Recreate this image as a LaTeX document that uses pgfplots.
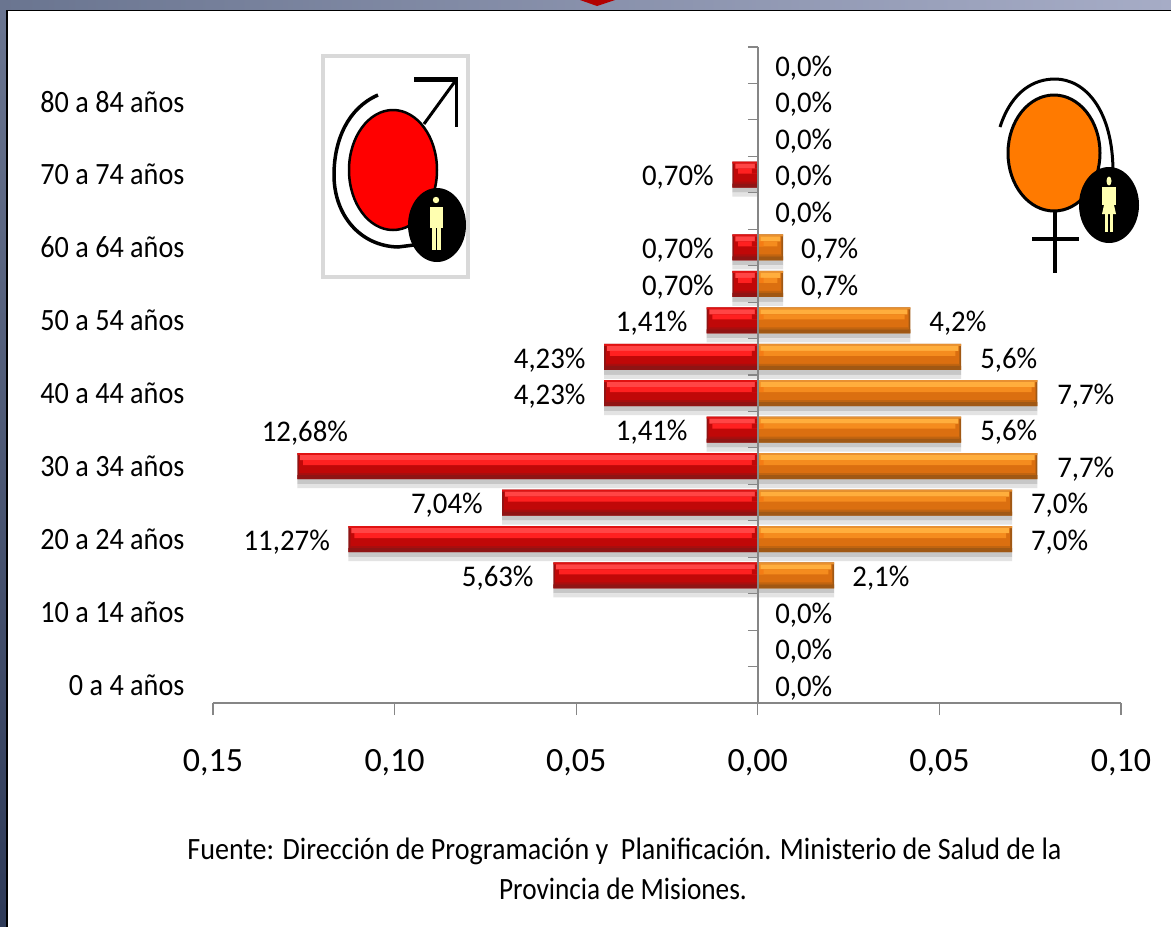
\documentclass[border=0pt]{standalone}
\usepackage{pgfplots}
\pgfplotsset{compat=1.18}
\usepackage{pgfplotstable}
\usepackage{fontspec}
\setmainfont{Carlito}
\newfontfamily\catf[FakeStretch=0.91]{Carlito}
\newfontfamily\lblf[FakeStretch=0.96]{Carlito}
\newfontfamily\srcf[FakeStretch=0.88]{Carlito}
\newfontfamily\srcg[FakeStretch=0.906]{Carlito}
\pgfplotstableread{
y v
3 -0.0563
4 -0.1127
5 -0.0704
6 -0.1268
7 -0.0141
8 -0.0423
9 -0.0423
10 -0.0141
11 -0.0070
12 -0.0070
14 -0.0070
}\maletab
\pgfplotstableread{
y v
3 0.021
4 0.070
5 0.070
6 0.077
7 0.056
8 0.077
9 0.056
10 0.042
11 0.007
12 0.007
}\femtab
\pgfplotstableread{
x y lab
0.01266 17 0,0
0.01266 16 0,0
0.01266 15 0,0
0.01266 14 0,0
0.01266 13 0,0
0.01266 2 0,0
0.01266 1 0,0
0.01266 0 0,0
0.0198 12 0,7
0.0198 11 0,7
0.0551 10 4,2
0.0691 9 5,6
0.0903 8 7,7
0.0691 7 5,6
0.0903 6 7,7
0.0831 5 7,0
0.0831 4 7,0
0.0339 3 2,1
-0.0220 14 0,70
-0.0220 12 0,70
-0.0220 11 0,70
-0.0292 10 1,41
-0.0573 9 4,23
-0.0573 8 4,23
-0.0292 7 1,41
-0.1247 7 12,68
-0.0856 5 7,04
-0.1297 4 11,27
-0.0716 3 5,63
}\labtab
% one layer: table, colour, width, shift, outer inset, sign
\newcommand\lay[6]{\addplot[xbar,bar width=#3pt,bar shift=#4pt,fill=#2,draw=none,forget plot] table[x expr={\thisrow{v}+(#6)*(#5)},y=y]{#1};}
\newcommand\capb[5]{\addplot[xbar,bar width=#3pt,bar shift=#4pt,fill=#2,draw=none,forget plot] table[x expr={(#5)},y=y]{#1};}
\definecolor{ax}{HTML}{868686}
\definecolor{pale}{HTML}{FFFFB0}
\definecolor{stripL}{HTML}{6A7590}
\definecolor{stripR}{HTML}{A6ACC6}
\definecolor{stripD}{HTML}{2E3A58}
\definecolor{mA}{HTML}{C00808}
\definecolor{mB}{HTML}{E01212}
\definecolor{mC}{HTML}{FF4545}
\definecolor{mD}{HTML}{FF2020}
\definecolor{mE}{HTML}{A80E0E}
\definecolor{mF}{HTML}{8F1414}
\definecolor{fA}{HTML}{DB6F10}
\definecolor{fB}{HTML}{E89030}
\definecolor{fC}{HTML}{FFAE3D}
\definecolor{fD}{HTML}{F58C1E}
\definecolor{fE}{HTML}{C06410}
\definecolor{fF}{HTML}{A05814}
\definecolor{fG}{HTML}{F57C14}
\definecolor{femfill}{HTML}{FF7A00}
\begin{document}
\begin{tikzpicture}[x=1pt,y=1pt]
\useasboundingbox (0,0) rectangle (1171,-927);
\fill[white] (0,0) rectangle (1171,-927);
\shade[left color=stripL,right color=stripR] (0,0) rectangle (1171,-10);
\shade[top color=stripL,bottom color=stripD] (0,-10) rectangle (6,-927);
\fill[black] (6,-10) rectangle (1171,-11);
\fill[black] (6,-10) rectangle (7.5,-927);
\fill[red!70!black] (580,0) -- (597,-6) -- (615,0) -- cycle;
\begin{axis}[
  at={(213pt,-703pt)},anchor=south west,scale only axis,
  width=908pt,height=656pt,
  xmin=-0.15,xmax=0.10,ymin=-0.5,ymax=17.5,clip=false,
  axis x line=bottom,axis y line=left,
  x axis line style={-,color=ax,line width=1.2pt},
  y axis line style={draw=none},
  xtick={-0.15,-0.10,-0.05,0,0.05,0.10},
  xticklabels={{0,15},{0,10},{0,05},{0,00},{0,05},{0,10}},
  ytick={0,2,...,16},
  yticklabels={0 a 4 años,10 a 14 años,20 a 24 años,30 a 34 años,40 a 44 años,50 a 54 años,60 a 64 años,70 a 74 años,80 a 84 años},
  yticklabel style={font=\catf\fontsize{31}{36}\selectfont,anchor=east,xshift=-13pt},
  x tick style={color=ax,line width=1.2pt},
  y tick style={draw=none},
  tick align=outside,major tick length=12pt,
  xticklabel style={font=\fontsize{34}{40}\selectfont,yshift=-31pt},
]
% shadows
\lay{\maletab}{black!22}{5}{-15.5}{0}{1}
\lay{\femtab}{black!22}{5}{-15.5}{0}{-1}
\lay{\maletab}{black!11}{4}{-20}{0}{1}
\lay{\femtab}{black!11}{4}{-20}{0}{-1}
% male bevel
\lay{\maletab}{mF}{26}{0}{0}{1}
\lay{\maletab}{mA}{22}{0}{0.0005}{1}
\lay{\maletab}{mB}{2}{12}{0}{1}
\lay{\maletab}{mC}{5}{8.5}{0.0008}{1}
\lay{\maletab}{mD}{5}{3.5}{0.0016}{1}
\lay{\maletab}{mE}{2}{-8}{0.0005}{1}
\lay{\maletab}{mF}{4}{-11}{0}{1}
\capb{\maletab}{mA}{5}{8.5}{-0.0008}
\capb{\maletab}{mA}{5}{3.5}{-0.0016}
% female bevel
\lay{\femtab}{fF}{26}{0}{0}{-1}
\lay{\femtab}{fA}{22}{0}{0.0005}{-1}
\lay{\femtab}{fB}{2}{12}{0}{-1}
\lay{\femtab}{fC}{5}{8.5}{0.0008}{-1}
\lay{\femtab}{fD}{5}{3.5}{0.0016}{-1}
\lay{\femtab}{fE}{2}{-8}{0.0005}{-1}
\lay{\femtab}{fF}{4}{-11}{0}{-1}
\capb{\femtab}{fD}{5}{8.5}{0.0008}
\capb{\femtab}{fG}{5}{3.5}{0.0016}
% data labels
\addplot[only marks,mark=none,forget plot,point meta=explicit symbolic,
  nodes near coords={\pgfplotspointmeta\%},
  every node near coord/.style={anchor=center,inner sep=0pt,yshift=-3pt,font=\lblf\fontsize{30}{36}\selectfont}]
  table[x=x,y=y,meta=lab]{\labtab};
\end{axis}
\begin{axis}[
  at={(213pt,-703pt)},anchor=south west,scale only axis,
  width=908pt,height=656pt,
  xmin=-0.15,xmax=0.10,ymin=-0.5,ymax=17.5,
  axis x line=none,axis y line=middle,
  y axis line style={-,color=ax,line width=1.4pt},
  ytick={-0.5,0.5,...,17.5},yticklabels={},
  y tick style={color=ax,line width=1.2pt},
  tick align=outside,major tick length=10pt,
]
\end{axis}
% male symbol
\draw[draw=black!15,line width=4pt] (323,-56) rectangle (468,-277);
\fill[red,draw=black,line width=2.5pt] (393,-170) ellipse (44pt and 60pt);
\draw[line width=3.5pt] (378,-95) .. controls (348,-108) and (334,-140) .. (334,-175) .. controls (334,-215) and (360,-246) .. (398,-247) -- (414,-245);
\draw[line width=3pt] (424,-124) -- (456,-80);
\draw[line width=5pt] (414,-79) -- (458,-79);
\draw[line width=3.5pt] (456.5,-78) -- (456.5,-127);
\fill[black] (437,-225) ellipse (29pt and 37pt);
\fill[pale] (436,-200) circle (3.2pt);
\fill[pale] (430,-207) rectangle (443,-228);
\fill[pale] (432,-226) rectangle (436,-250);
\fill[pale] (437,-226) rectangle (441,-250);
% female symbol
\fill[femfill,draw=black,line width=3pt] (1054,-153) ellipse (46pt and 58pt);
\draw[line width=3pt] (1000,-127) .. controls (1012,-90) and (1035,-79) .. (1055,-79) .. controls (1085,-79) and (1113,-110) .. (1113,-172);
\draw[line width=4pt] (1055,-211) -- (1055,-273);
\draw[line width=4pt] (1032,-239) -- (1079,-239);
\fill[black] (1109,-205) ellipse (30pt and 38pt);
\fill[pale] (1109,-181) ellipse (2.5pt and 4.5pt);
\fill[pale] (1102,-187) rectangle (1116,-205);
\fill[pale] (1104,-205) -- (1114,-205) -- (1116,-214) -- (1102,-214) -- cycle;
\fill[pale] (1105,-214) rectangle (1108,-232);
\fill[pale] (1110,-214) rectangle (1113,-232);
% source
\node[font=\srcg\fontsize{31}{36}\selectfont,anchor=center] at (624.5,-851) {Fuente: Dirección de Programación y\ \ Planificación. Ministerio de Salud de la};
\node[font=\srcf\fontsize{31}{36}\selectfont,anchor=center] at (623,-889) {Provincia de Misiones.};
\end{tikzpicture}
\end{document}
